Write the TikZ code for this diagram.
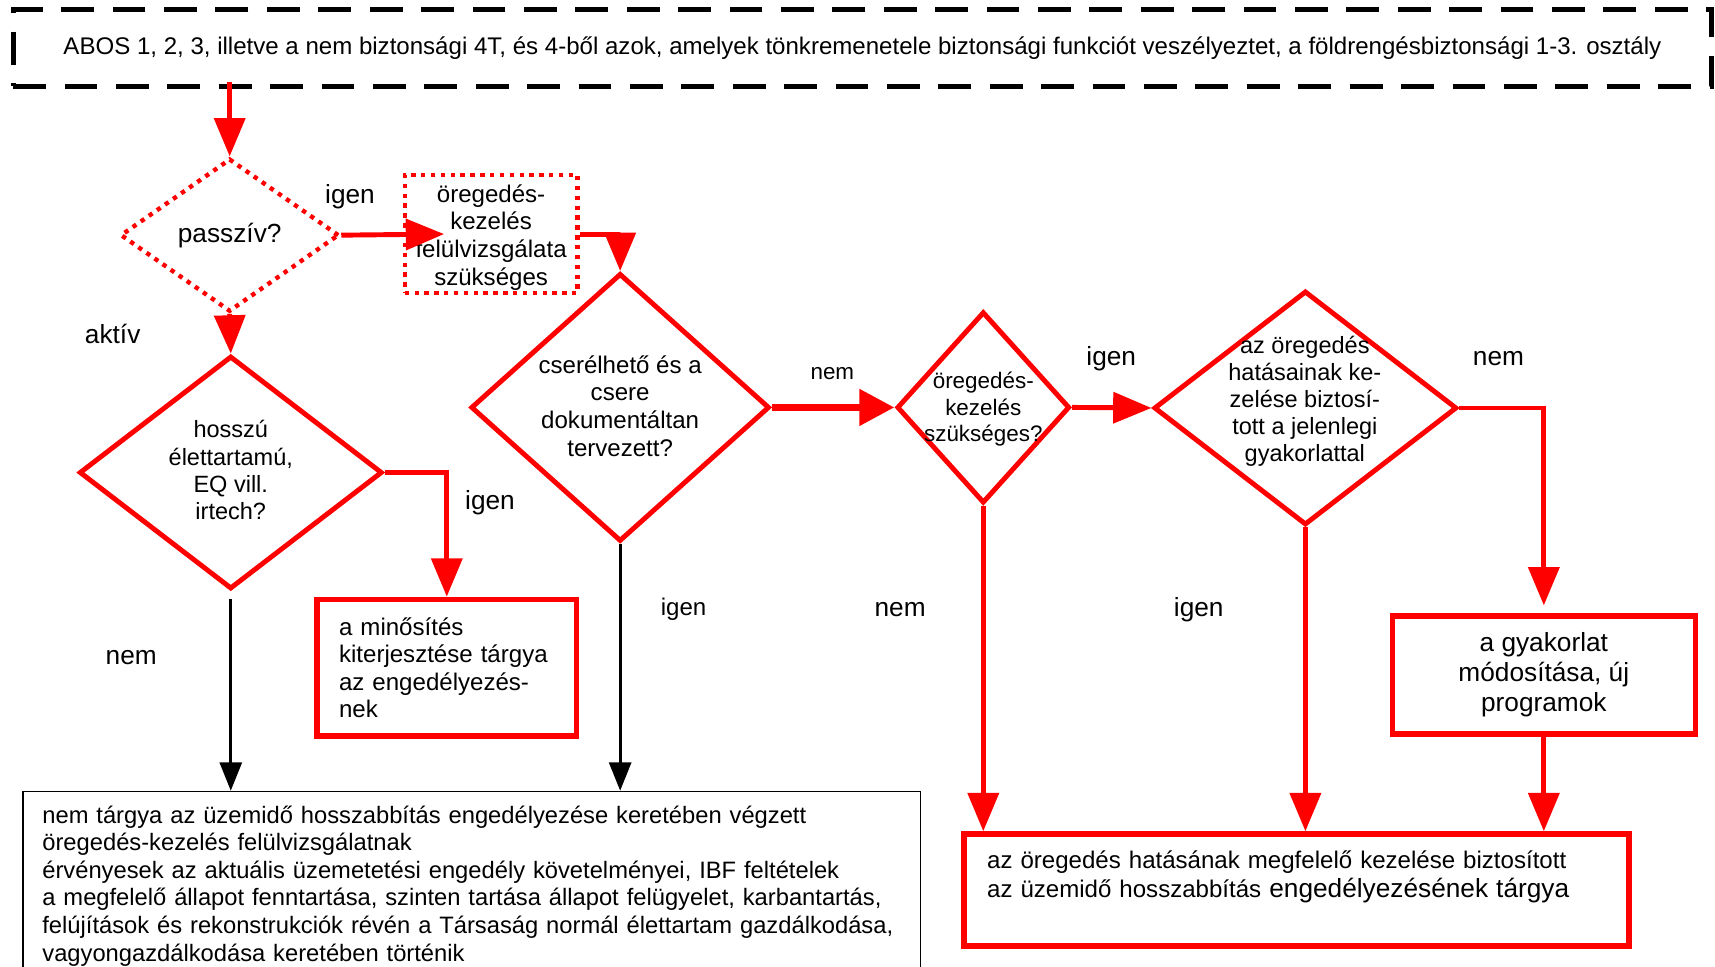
\documentclass[tikz,border=0pt]{standalone}
\usepackage{fontspec}
\setmainfont{Liberation Sans}
\usepackage{tikz}
\usetikzlibrary{shapes.geometric,arrows.meta}

\begin{document}
\begin{tikzpicture}[x=1pt,y=-1pt,
    red arrow/.style={red,line width=4.5pt,-{Triangle[length=35pt,width=28pt]}},
    black arrow/.style={black,line width=3pt,-{Triangle[length=26pt,width=20pt]}},
    decision/.style={diamond,draw=red,line width=4.5pt,inner sep=0pt},
    dotline/.style={line width=4pt,dash pattern=on 4pt off 5pt},
    txt/.style={inner sep=0pt,align=center,font=\fontsize{22}{25.3}\selectfont},
    answer/.style={inner sep=0pt,font=\fontsize{24}{28}\selectfont},
    result/.style={draw=red,line width=5pt,inner sep=0pt}]
% page
\useasboundingbox (0,0) rectangle (1568,884);
\fill[white] (0,0) rectangle (1568,884);

% Scope of the review
\node[draw,line width=4.5pt,dash pattern=on 30pt off 17pt,minimum width=1553pt,minimum height=70pt,txt] (scope) at (788.5,44) {ABOS 1, 2, 3, illetve a nem biztonsági 4T, és 4-ből azok, amelyek tönkremenetele biztonsági funkciót veszélyeztet, a földrengésbiztonsági 1-3. osztály};

% Passive branch
\node[decision,dotline,minimum width=200pt,minimum height=140pt] (passive) at (210,215) {};
\node[txt,font=\fontsize{24}{28}\selectfont] (passive-q) at (passive) {passzív?};
\node[draw=red,dotline,minimum width=158pt,minimum height=108pt,txt] (review) at (449,214) {};
\node[txt] (review-t) at (449,217) {öregedés-\\kezelés\\felülvizsgálata\\szükséges};

% Active branch
\node[decision,minimum width=277pt,minimum height=213pt] (long) at (211,432) {};
\node[txt,font=\fontsize{21.5}{25}\selectfont] (long-q) at (211,430) {hosszú\\élettartamú,\\EQ vill.\\irtech?};
\node[result,minimum width=237pt,minimum height=125pt,inner xsep=20pt,text width=197pt,align=left,font=\fontsize{22}{25}\selectfont] (qual) at (408.5,610.5) {a minősítés\\kiterjesztése tárgya\\az engedélyezés-\\nek};

% Replaceable?
\node[decision,minimum width=273pt,minimum height=245pt] (swap) at (567,372.5) {};
\node[txt] (swap-q) at (567,371) {cserélhető és a\\csere\\dokumentáltan\\tervezett?};

% Aging management needed?
\node[decision,minimum width=158pt,minimum height=175pt] (need) at (899,372.5) {};
\node[txt,font=\fontsize{20.5}{24}\selectfont] (need-q) at (899,374) {öregedés-\\kezelés\\szükséges?};

% Current practice enough?
\node[decision,minimum width=277pt,minimum height=214pt] (practice) at (1193.5,373) {};
\node[txt,font=\fontsize{21.5}{24.7}\selectfont] (practice-q) at (1193,367) {az öregedés\\hatásainak ke-\\zelése biztosí-\\tott a jelenlegi\\gyakorlattal};
\node[result,minimum width=277pt,minimum height=108pt,txt,font=\fontsize{24}{27.5}\selectfont] (modify) at (1411.5,617) {a gyakorlat\\módosítása, új\\programok};

% Outcomes
\node[result,anchor=north west,minimum width=608pt,inner xsep=21pt,inner ysep=15pt,text width=566pt,align=left,text depth=56pt,font=\fontsize{22}{27}\selectfont] (lic) at (879,760) {az öregedés hatásának megfelelő kezelése biztosított\\az üzemidő hosszabbítás {\fontsize{24}{27}\selectfont engedélyezésének tárgya}};
\node[draw,line width=1.5pt,anchor=north west,inner xsep=18pt,inner ysep=13pt,text width=785pt,align=left,font=\fontsize{21.7}{25.2}\selectfont] (rest) at (20,723) {nem tárgya az üzemidő hosszabbítás engedélyezése keretében végzett\\öregedés-kezelés felülvizsgálatnak\\érvényesek az aktuális üzemetetési engedély követelményei, IBF feltételek\\a megfelelő állapot fenntartása, szinten tartása állapot felügyelet, karbantartás,\\felújítások és rekonstrukciók révén a Társaság normál élettartam gazdálkodása,\\vagyongazdálkodása keretében történik};

% Connectors
\draw[red arrow] ([yshift=6pt]scope.south -| passive.north) -- (passive.north);
\draw[red arrow] (passive.east) -- ([xshift=38pt]review.west);
\draw[red arrow] (review.east) -| (swap.north);
\draw[red arrow] (passive.south) -- (long.north);
\draw[red arrow] (long.east) -| (qual.north);
\draw[black arrow] ([yshift=-7pt]long.south) -- (long.south |- rest.north);
\draw[black arrow] (swap.south) -- (swap.south |- rest.north);
\draw[red arrow,line width=7pt,-{Triangle[length=32pt,width=32pt]}] (swap.east) -- (need.west);
\draw[red arrow] (need.east) -- (practice.west);
\draw[red arrow] (practice.east) -| ([yshift=7pt]modify.north);
\draw[red arrow] (modify.south) -- (modify.south |- lic.north);
\draw[red arrow] (need.south) -- (need.south |- lic.north);
\draw[red arrow] (practice.south) -- (practice.south |- lic.north);

% Answers
\node[answer] (passive-yes) at (320,180) {igen};
\node[answer] (passive-no) at (103,305) {aktív};
\node[answer] (long-yes) at (448,460) {igen};
\node[answer] (long-no) at (120,601) {nem};
\node[answer,font=\fontsize{22}{26}\selectfont] (swap-yes) at (625,557) {igen};
\node[answer,font=\fontsize{20.5}{24}\selectfont] (swap-no) at (761,342) {nem};
\node[answer] (need-no) at (823,557) {nem};
\node[answer] (need-yes) at (1016,328) {igen};
\node[answer] (practice-yes) at (1096,557) {igen};
\node[answer] (practice-no) at (1370,328) {nem};
\end{tikzpicture}
\end{document}
